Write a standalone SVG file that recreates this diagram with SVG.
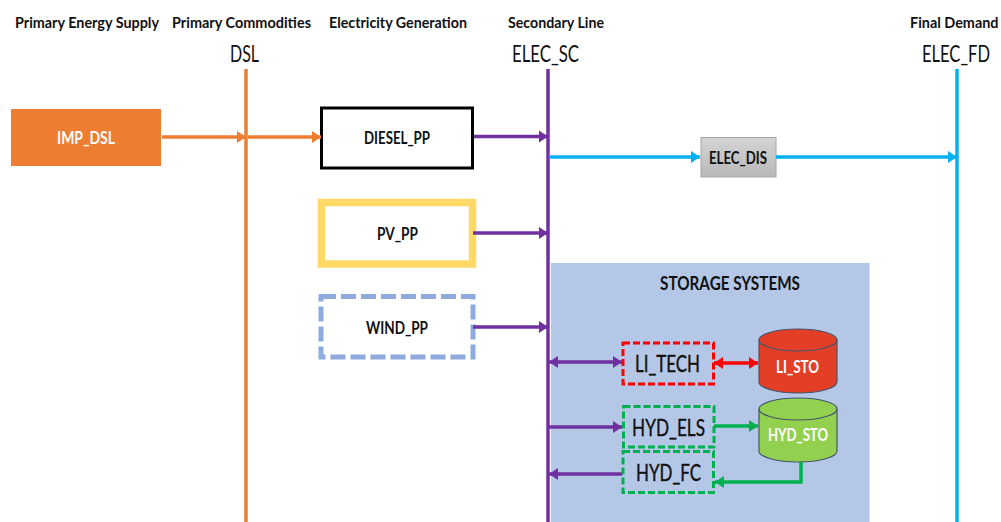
<svg xmlns="http://www.w3.org/2000/svg" width="1001" height="522" viewBox="0 0 1001 522">
<style>
text{font-family:Lato,"Open Sans","Liberation Sans",sans-serif;fill:#111}
.h{font-size:15.500px;font-weight:700}
.c{font-size:23px;font-weight:400}
.n{font-size:16.500px;font-weight:700}
.s{font-size:24px;font-weight:400;stroke:#111;stroke-width:.4}
.w{fill:#fff}
.ln{fill:none;stroke-width:3.500}
.o{stroke:#ED7D31}.p{stroke:#7030A0}.b{stroke:#00B0F0}.r{stroke:#FF0000}.g{stroke:#00B050}
.box{fill:none;stroke-width:3;stroke-dasharray:7 3}
.cyl{stroke:#44546A;stroke-width:1.200}
</style>
<defs>
<marker id="ao" markerUnits="userSpaceOnUse" markerWidth="10" markerHeight="13" refX="9" refY="6.500" orient="auto-start-reverse"><path d="M0 0.500L9 6.500L0 12.500Z" fill="#ED7D31"/></marker>
<marker id="ap" markerUnits="userSpaceOnUse" markerWidth="10" markerHeight="13" refX="9" refY="6.500" orient="auto-start-reverse"><path d="M0 0.500L9 6.500L0 12.500Z" fill="#7030A0"/></marker>
<marker id="ab" markerUnits="userSpaceOnUse" markerWidth="10" markerHeight="13" refX="9" refY="6.500" orient="auto-start-reverse"><path d="M0 0.500L9 6.500L0 12.500Z" fill="#00B0F0"/></marker>
<marker id="ar" markerUnits="userSpaceOnUse" markerWidth="10" markerHeight="13" refX="9" refY="6.500" orient="auto-start-reverse"><path d="M0 0.500L9 6.500L0 12.500Z" fill="#FF0000"/></marker>
<marker id="ag" markerUnits="userSpaceOnUse" markerWidth="10" markerHeight="13" refX="9" refY="6.500" orient="auto-start-reverse"><path d="M0 0.500L9 6.500L0 12.500Z" fill="#00B050"/></marker>
<linearGradient id="gr" x1="0" y1="0" x2="0" y2="1"><stop offset="0" stop-color="#D4D4D4"/><stop offset="1" stop-color="#B8B8B8"/></linearGradient>
</defs>
<g id="headers">
<text class="h" x="15" y="28" textLength="144" lengthAdjust="spacingAndGlyphs">Primary Energy Supply</text>
<text class="h" x="172" y="28" textLength="139" lengthAdjust="spacingAndGlyphs">Primary Commodities</text>
<text class="h" x="329" y="28" textLength="138" lengthAdjust="spacingAndGlyphs">Electricity Generation</text>
<text class="h" x="508" y="28" textLength="96" lengthAdjust="spacingAndGlyphs">Secondary Line</text>
<text class="h" transform="translate(910 28) scale(.93 1)">Final Demand</text>
</g>
<rect id="storage-area" x="551" y="263" width="318.500" height="259" fill="#B4C7E7"/>
<text class="n" x="660" y="290" style="font-size:19px" textLength="140" lengthAdjust="spacingAndGlyphs">STORAGE SYSTEMS</text>
<g id="commodities">
<text class="c" x="230" y="62" textLength="29" lengthAdjust="spacingAndGlyphs">DSL</text>
<text class="c" x="512" y="62" textLength="67" lengthAdjust="spacingAndGlyphs">ELEC_SC</text>
<text class="c" transform="translate(922 62) scale(.72 1)">ELEC_FD</text>
</g>
<g id="IMP_DSL"><rect x="11" y="109" width="150" height="57" fill="#ED7D31"/><text class="n w" x="57" y="144" textLength="58" lengthAdjust="spacingAndGlyphs">IMP_DSL</text></g>
<g id="DIESEL_PP"><rect x="321.500" y="108" width="151" height="60" fill="#fff" stroke="#000" stroke-width="3"/><text class="n" x="364" y="144" textLength="66" lengthAdjust="spacingAndGlyphs">DIESEL_PP</text></g>
<g id="PV_PP"><rect x="321.500" y="202.500" width="151" height="61.500" fill="#fff" stroke="#FFD966" stroke-width="7.500"/><text class="n" x="377" y="240" textLength="41" lengthAdjust="spacingAndGlyphs">PV_PP</text></g>
<g id="WIND_PP"><rect x="321" y="296.500" width="152" height="60.500" fill="#fff" stroke="#8FAADC" stroke-width="5" stroke-dasharray="15 5"/><text class="n" x="366" y="334" textLength="62" lengthAdjust="spacingAndGlyphs">WIND_PP</text></g>
<g id="ELEC_DIS"><rect x="701" y="137.500" width="75" height="39.500" fill="url(#gr)" stroke="#A6A6A6"/><text class="n" x="709" y="164" textLength="58" lengthAdjust="spacingAndGlyphs">ELEC_DIS</text></g>
<g id="LI_TECH"><rect class="box r" x="623" y="343" width="90.500" height="41"/><text class="s" x="635" y="372" textLength="65" lengthAdjust="spacingAndGlyphs">LI_TECH</text></g>
<g id="HYD_ELS"><rect class="box g" x="623.500" y="406.500" width="90.500" height="40.500"/><text class="s" x="632" y="436" textLength="73" lengthAdjust="spacingAndGlyphs">HYD_ELS</text></g>
<g id="HYD_FC"><rect class="box g" x="623" y="451.500" width="90.500" height="41"/><text class="s" x="636" y="481" textLength="65" lengthAdjust="spacingAndGlyphs">HYD_FC</text></g>
<g id="LI_STO"><path class="cyl" d="M759 340A39 11 0 0 1 837 340V382A39 11 0 0 1 759 382Z" fill="#E33F26"/><path class="cyl" d="M759 340A39 11 0 0 0 837 340" fill="none"/><text class="n w" x="776" y="373" textLength="43" lengthAdjust="spacingAndGlyphs">LI_STO</text></g>
<g id="HYD_STO"><path class="cyl" d="M759 409A39 11 0 0 1 837 409V451A39 11 0 0 1 759 451Z" fill="#92D050"/><path class="cyl" d="M759 409A39 11 0 0 0 837 409" fill="none"/><text class="n w" x="768" y="441" textLength="60" lengthAdjust="spacingAndGlyphs">HYD_STO</text></g>
<g id="connectors">
<path class="ln o" d="M246 69V522"/>
<path class="ln p" d="M548 69V522"/>
<path class="ln b" d="M957 69V522"/>
<path class="ln o" d="M162 137H246" marker-end="url(#ao)"/>
<path class="ln o" d="M248 137H321" marker-end="url(#ao)"/>
<path class="ln p" d="M474 136.500H548" marker-end="url(#ap)"/>
<path class="ln p" d="M473 233H548" marker-end="url(#ap)"/>
<path class="ln p" d="M473 327H548" marker-end="url(#ap)"/>
<path class="ln b" d="M549 157H700" marker-end="url(#ab)"/>
<path class="ln b" d="M776 157H957" marker-end="url(#ab)"/>
<path class="ln p" d="M549 362H622" marker-start="url(#ap)" marker-end="url(#ap)"/>
<path class="ln r" d="M714 363H758" marker-start="url(#ar)" marker-end="url(#ar)"/>
<path class="ln p" d="M549 427H622" marker-end="url(#ap)"/>
<path class="ln g" d="M714 426H758" marker-end="url(#ag)"/>
<path class="ln p" d="M622 474H549" marker-end="url(#ap)"/>
<path class="ln g" d="M801 462V482H715" marker-end="url(#ag)"/>
</g>
</svg>
